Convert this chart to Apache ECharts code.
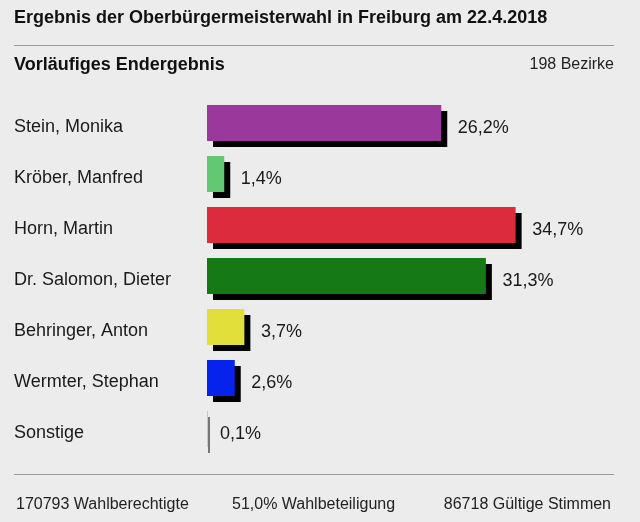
<!DOCTYPE html>
<html><head><meta charset="utf-8">
<script src="https://cdn.jsdelivr.net/npm/echarts@6/dist/echarts.min.js"></script>
<style>html,body{margin:0;padding:0;background:#ececec}#c{width:640px;height:522px}</style>
</head><body><div id="c"></div>
<script>
const candidates = ['Stein, Monika','Kröber, Manfred','Horn, Martin','Dr. Salomon, Dieter','Behringer, Anton','Wermter, Stephan','Sonstige'];
const shares = [26.2, 1.4, 34.7, 31.3, 3.7, 2.6, 0.1];
const colors = ['#9b389b','#63c873','#dc2b3c','#157a15','#e2df3a','#0623ee','#c8c8c8'];
const titleText = 'Ergebnis der Oberbürgermeisterwahl in Freiburg am 22.4.2018';
const subTitle = 'Vorläufiges Endergebnis';
const districts = '198 Bezirke';
const footer = ['170793 Wahlberechtigte','51,0% Wahlbeteiligung','86718 Gültige Stimmen'];

const FONT = '"Liberation Sans", Arial, sans-serif';
const chart = echarts.init(document.getElementById('c'), null, {renderer:'canvas'});
const fmt = v => v.toFixed(1).replace('.', ',') + '%';

chart.setOption({
  backgroundColor: '#ececec',
  animation: false,
  grid: {left: 207, top: 97.5, width: 350, height: 357},
  xAxis: {type:'value', min:0, max:40, show:false},
  yAxis: {type:'category', inverse:true, data:candidates,
    axisLine:{show:false}, axisTick:{show:false}, splitLine:{show:false},
    axisLabel:{align:'left', margin:193, formatter: n => '{n|' + n + '}',
      rich:{n:{fontSize:18, color:'#1a1a1a', fontFamily:FONT, padding:[8,0,0,0], align:'left'}}}},
  graphic: [
    {type:'text', left:14, top:9, style:{text:titleText, font:'bold 18px '+FONT, fill:'#111'}},
    {type:'line', shape:{x1:14,y1:45.5,x2:614,y2:45.5}, style:{stroke:'#9a9a9a', lineWidth:1}},
    {type:'text', left:14, top:56, style:{text:subTitle, font:'bold 18px '+FONT, fill:'#111'}},
    {type:'text', right:26, top:57, style:{text:districts, font:'16px '+FONT, fill:'#222'}},
    {type:'line', shape:{x1:14,y1:474.5,x2:614,y2:474.5}, style:{stroke:'#9a9a9a', lineWidth:1}},
    {type:'text', left:16, top:497, style:{text:footer[0], font:'16px '+FONT, fill:'#222'}},
    {type:'text', left:232, top:497, style:{text:footer[1], font:'16px '+FONT, fill:'#222'}},
    {type:'text', right:29, top:497, style:{text:footer[2], font:'16px '+FONT, fill:'#222'}}
  ],
  series: [{
    type:'custom',
    encode:{x:0, y:1},
    data: shares.map((v,i)=>[v,i]),
    renderItem: function(params, api){
      const v = api.value(0), ci = api.value(1);
      const p0 = api.coord([0, ci]);
      const p1 = api.coord([v, ci]);
      const bh = api.size([0,1])[1] * 0.706;
      const small = v < 1;
      const pad = small ? 0 : 5;
      const w = Math.max(1, p1[0]-p0[0]+pad);
      const sx = small ? 1.5 : 6;
      return {type:'group', children:[
        {type:'rect', shape:{x:p0[0], y:p0[1]-bh/2, width:w, height:bh},
          style:{fill:colors[ci], shadowColor:'#000', shadowBlur:0, shadowOffsetX:sx, shadowOffsetY:6}},
        {type:'text', x:p0[0]+w+sx+10.5, y:p0[1]+5,
          style:{text:fmt(v), font:'18px '+FONT, fill:'#1a1a1a', textVerticalAlign:'middle', verticalAlign:'middle'}}
      ]};
    }
  }]
});
</script></body></html>
